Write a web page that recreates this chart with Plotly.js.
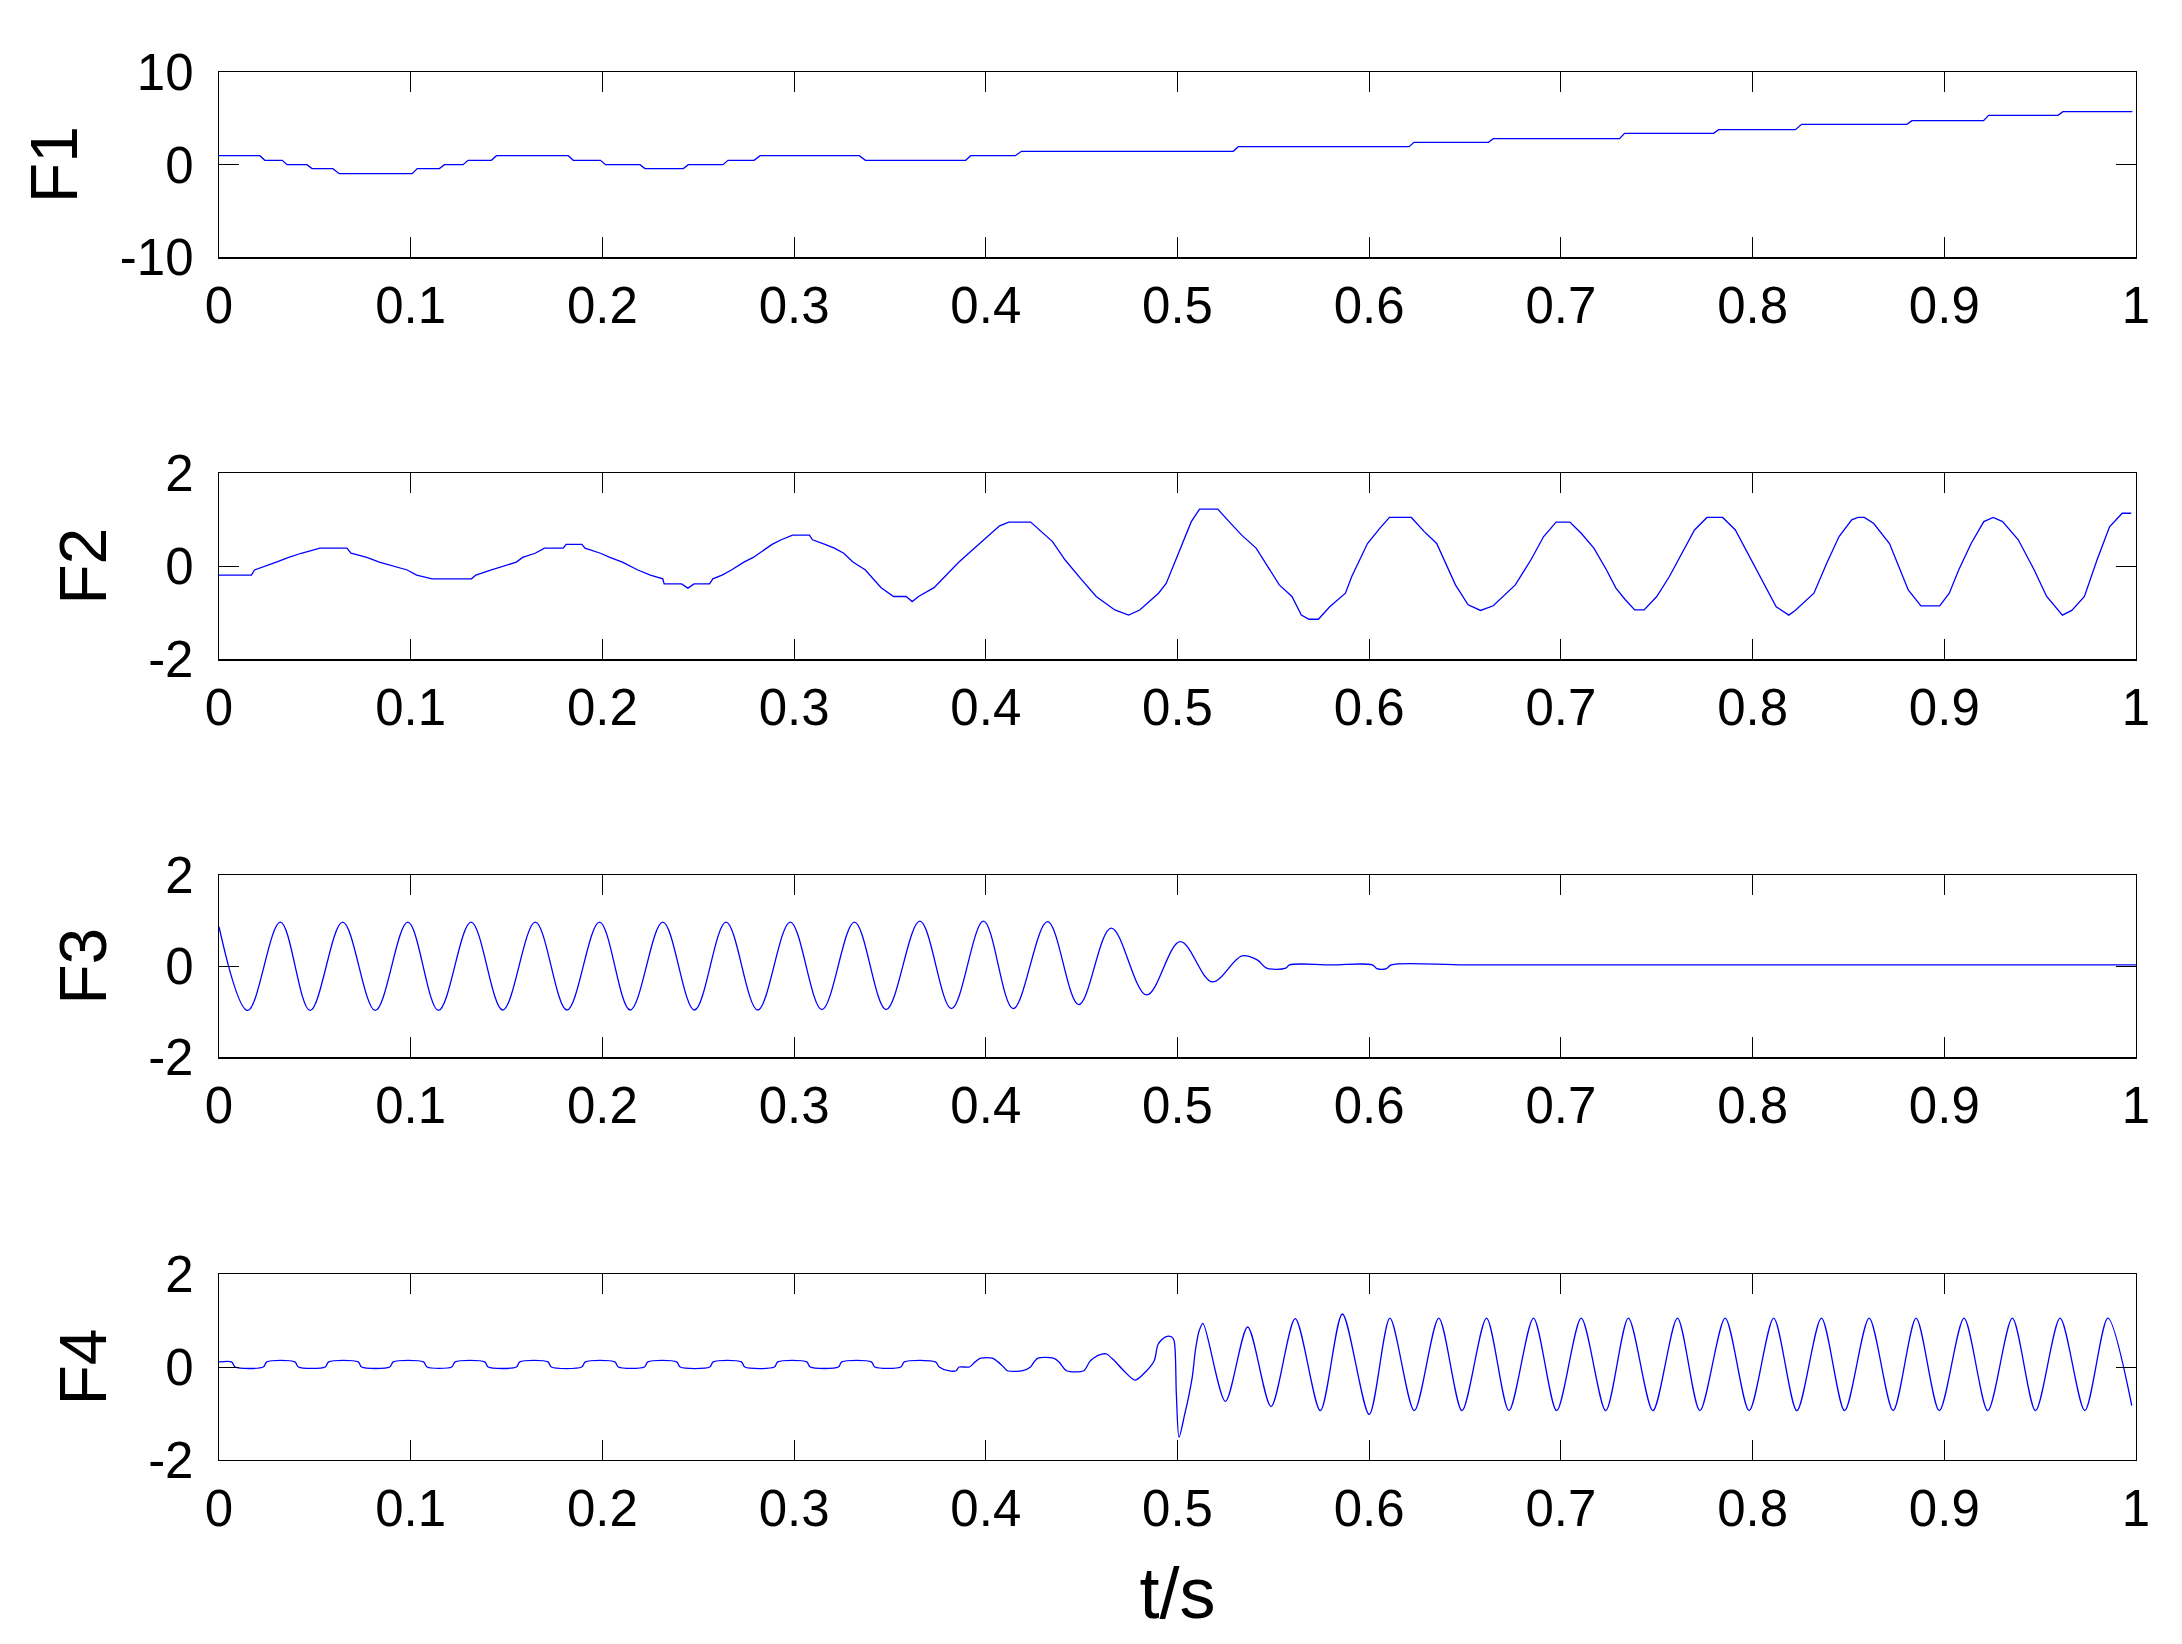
<!DOCTYPE html>
<html>
<head>
<meta charset="utf-8">
<script src="https://cdn.plot.ly/plotly-3.0.1.min.js"></script>
<style>html,body{margin:0;padding:0;background:#fff;}#chart{width:2182px;height:1644px;}</style>
</head>
<body>
<div id="chart"></div>
<script>
// ---- data ----
const xTickVals = [0, 0.1, 0.2, 0.3, 0.4, 0.5, 0.6, 0.7, 0.8, 0.9, 1];
const xTickText = ['0', '0.1', '0.2', '0.3', '0.4', '0.5', '0.6', '0.7', '0.8', '0.9', '1'];
const yLabels = ['F1', 'F2', 'F3', 'F4'];
const xLabel = 't/s';
const f1TickVals = [-10, 0, 10];
const fTickVals = [-2, 0, 2];

const f1_t = [0, 0.0213, 0.0239, 0.0330, 0.0355, 0.0459, 0.0485, 0.0594, 0.0627, 0.1008,
  0.1034, 0.1150, 0.1176, 0.1273, 0.1299, 0.1421, 0.1447, 0.1822, 0.1848, 0.1990,
  0.2016, 0.2196, 0.2222, 0.2422, 0.2448, 0.2629, 0.2655, 0.2791, 0.2823, 0.3340,
  0.3372, 0.3895, 0.3921, 0.4154, 0.4186, 0.5291, 0.5317, 0.6208, 0.6234, 0.6622,
  0.6647, 0.7306, 0.7332, 0.7797, 0.7823, 0.8223, 0.8256, 0.8805, 0.8831, 0.9205,
  0.9231, 0.9593, 0.9619, 0.9981];
const f1_v = [0.97, 0.97, 0.47, 0.47, 0, 0, -0.43, -0.43, -0.97, -0.97,
  -0.43, -0.43, 0, 0, 0.47, 0.47, 0.97, 0.97, 0.47, 0.47,
  0, 0, -0.43, -0.43, 0, 0, 0.47, 0.47, 0.97, 0.97,
  0.47, 0.47, 0.97, 0.97, 1.44, 1.44, 1.94, 1.94, 2.41, 2.41,
  2.8, 2.8, 3.38, 3.38, 3.78, 3.78, 4.35, 4.35, 4.75, 4.75,
  5.32, 5.32, 5.72, 5.72];

const f2_t = [0, 0.0169, 0.0185, 0.025, 0.0299, 0.0364, 0.0429, 0.0527, 0.0667, 0.0689,
  0.0771, 0.0836, 0.0901, 0.0982, 0.1031, 0.1112, 0.1317, 0.134, 0.1421, 0.1486,
  0.1551, 0.1584, 0.1649, 0.1698, 0.1795, 0.1811, 0.1893, 0.1909, 0.199, 0.2039,
  0.2104, 0.2185, 0.225, 0.2315, 0.2322, 0.2413, 0.2446, 0.2478, 0.2559, 0.2576,
  0.2624, 0.2673, 0.2738, 0.2787, 0.282, 0.2885, 0.2933, 0.2992, 0.308, 0.3096,
  0.3161, 0.321, 0.3259, 0.3307, 0.3372, 0.3454, 0.3519, 0.3584, 0.3616, 0.3649,
  0.373, 0.386, 0.399, 0.4072, 0.412, 0.4234, 0.4348, 0.4413, 0.4494, 0.4576,
  0.4673, 0.4745, 0.4803, 0.4901, 0.4941, 0.499, 0.5039, 0.5072, 0.5115, 0.521,
  0.5269, 0.5335, 0.541, 0.5482, 0.5531, 0.5597, 0.5646, 0.5686, 0.5735, 0.5794,
  0.5876, 0.5909, 0.5991, 0.6056, 0.6106, 0.622, 0.6286, 0.6352, 0.6401, 0.645,
  0.6516, 0.6581, 0.6647, 0.6762, 0.6844, 0.691, 0.6975, 0.7047, 0.7106, 0.7172,
  0.7238, 0.7287, 0.7336, 0.7385, 0.7434, 0.75, 0.7566, 0.7631, 0.7697, 0.7762,
  0.7844, 0.791, 0.7992, 0.8058, 0.8123, 0.8189, 0.8222, 0.832, 0.8386, 0.8451,
  0.8517, 0.855, 0.8583, 0.8632, 0.8714, 0.8763, 0.8812, 0.8878, 0.8976, 0.9026,
  0.9075, 0.914, 0.9206, 0.9255, 0.9304, 0.9386, 0.9469, 0.9534, 0.9616, 0.9665,
  0.9731, 0.9797, 0.9862, 0.9928, 0.9975];
const f2_v = [-0.19, -0.19, -0.08, 0.01, 0.09, 0.19, 0.28, 0.39, 0.39, 0.28,
  0.19, 0.09, 0.01, -0.08, -0.19, -0.27, -0.27, -0.19, -0.08, 0.01,
  0.09, 0.19, 0.28, 0.39, 0.39, 0.47, 0.47, 0.39, 0.28, 0.19,
  0.09, -0.08, -0.19, -0.27, -0.38, -0.38, -0.47, -0.38, -0.38, -0.27,
  -0.19, -0.08, 0.09, 0.19, 0.28, 0.47, 0.57, 0.67, 0.67, 0.57,
  0.47, 0.39, 0.28, 0.09, -0.08, -0.46, -0.65, -0.65, -0.76, -0.65,
  -0.46, 0.09, 0.57, 0.87, 0.95, 0.95, 0.53, 0.14, -0.26, -0.65,
  -0.94, -1.05, -0.94, -0.58, -0.37, 0.14, 0.64, 0.96, 1.23, 1.23,
  0.96, 0.67, 0.39, -0.08, -0.40, -0.65, -1.05, -1.14, -1.14, -0.87,
  -0.58, -0.22, 0.49, 0.82, 1.05, 1.05, 0.75, 0.49, 0.06, -0.40,
  -0.83, -0.95, -0.85, -0.40, 0.14, 0.64, 0.95, 0.95, 0.71, 0.39,
  -0.08, -0.47, -0.72, -0.94, -0.94, -0.65, -0.22, 0.28, 0.78, 1.05,
  1.05, 0.78, 0.14, -0.37, -0.87, -1.05, -0.95, -0.58, 0.06, 0.64,
  1.0, 1.05, 1.05, 0.92, 0.49, -0.01, -0.51, -0.85, -0.85, -0.58,
  -0.08, 0.49, 0.96, 1.05, 0.96, 0.57, -0.08, -0.65, -1.05, -0.95,
  -0.65, 0.14, 0.85, 1.14, 1.14];

const f3_t = [0, 0.015, 0.032, 0.0475, 0.0645, 0.0815, 0.0985, 0.1145, 0.1315, 0.148,
  0.165, 0.1815, 0.1985, 0.2145, 0.2315, 0.248, 0.2645, 0.281, 0.298, 0.3145,
  0.3315, 0.348, 0.3656, 0.3821, 0.3988, 0.4143, 0.4322, 0.4485, 0.4654, 0.4839,
  0.5014, 0.5181, 0.5336, 0.5416, 0.5465, 0.5565, 0.5584, 0.5800, 0.6016, 0.604,
  0.609, 0.6115, 0.65, 0.70, 0.75, 0.80, 0.85, 0.90, 0.95, 1.0];
const f3_v = [0.87, -0.97, 0.97, -0.97, 0.97, -0.97, 0.97, -0.97, 0.97, -0.96,
  0.97, -0.96, 0.97, -0.96, 0.97, -0.96, 0.97, -0.96, 0.97, -0.95,
  0.97, -0.95, 0.99, -0.93, 0.99, -0.93, 0.98, -0.84, 0.84, -0.63,
  0.54, -0.34, 0.23, 0.14, -0.04, -0.04, 0.03, 0.03, 0.03, -0.05,
  -0.05, 0.03, 0.03, 0.03, 0.03, 0.03, 0.03, 0.03, 0.03, 0.03];

const f4_t = [0, 0.0066, 0.0084, 0.0231, 0.0249, 0.0396, 0.0414, 0.0554, 0.0572, 0.0726,
  0.0744, 0.0891, 0.0909, 0.1067, 0.1085, 0.1214, 0.1232, 0.1386, 0.1404, 0.1551,
  0.1569, 0.1716, 0.1734, 0.1892, 0.1911, 0.2065, 0.2083, 0.2219, 0.2237, 0.2387,
  0.2406, 0.256, 0.2578, 0.2725, 0.2743, 0.2897, 0.2915, 0.3066, 0.3084, 0.3231,
  0.3249, 0.3403, 0.3421, 0.3557, 0.3575, 0.3737, 0.3757, 0.3805, 0.3845, 0.3861,
  0.3915, 0.3944, 0.3974, 0.4034, 0.4064, 0.4093, 0.4113, 0.4193, 0.4233, 0.4252,
  0.4272, 0.4352, 0.4382, 0.4421, 0.4511, 0.4541, 0.4561, 0.461, 0.463, 0.467,
  0.472, 0.4779, 0.4839, 0.4879, 0.4899, 0.4938, 0.4968, 0.4982, 0.4994, 0.5008,
  0.5038, 0.5054, 0.5078, 0.5093, 0.5113, 0.5133, 0.525, 0.5366, 0.5488, 0.5614,
  0.5745, 0.586, 0.6, 0.6108, 0.6235, 0.6363, 0.6484, 0.6612, 0.6729, 0.6857,
  0.6978, 0.7106, 0.7234, 0.7352, 0.748, 0.7608, 0.7725, 0.7857, 0.7982, 0.811,
  0.8231, 0.8359, 0.848, 0.8608, 0.8733, 0.8853, 0.8974, 0.9103, 0.9227, 0.9355,
  0.9476, 0.9604, 0.9733, 0.9853, 0.9978];
const f4_v = [0.11, 0.11, 0, 0, 0.11, 0.11, 0, 0, 0.11, 0.11,
  0, 0, 0.11, 0.11, 0, 0, 0.11, 0.11, 0, 0,
  0.11, 0.11, 0, 0, 0.11, 0.11, 0, 0, 0.11, 0.11,
  0, 0, 0.11, 0.11, 0, 0, 0.11, 0.11, 0, 0,
  0.11, 0.11, 0, 0, 0.11, 0.11, 0, -0.08, -0.08, 0,
  0, 0.11, 0.19, 0.19, 0.11, 0, -0.08, -0.08, 0, 0.11,
  0.19, 0.19, 0.11, -0.08, -0.08, 0.11, 0.19, 0.28, 0.28, 0.14,
  -0.08, -0.28, -0.08, 0.14, 0.49, 0.65, 0.65, 0.57, -0.58, -1.51,
  -1.01, -0.72, -0.19, 0.35, 0.78, 0.94, -0.74, 0.86, -0.85, 1.04,
  -0.94, 1.14, -1.02, 1.05, -0.94, 1.05, -0.94, 1.05, -0.94, 1.05,
  -0.94, 1.05, -0.94, 1.05, -0.94, 1.05, -0.94, 1.05, -0.94, 1.05,
  -0.94, 1.05, -0.94, 1.05, -0.94, 1.05, -0.94, 1.05, -0.94, 1.05,
  -0.94, 1.05, -0.94, 1.05, -0.83];

// ---- drawing ----
const FONT = 'Liberation Sans, Arial, Helvetica, sans-serif';
const lineStyle = {color: '#0000ff', width: 1.3};
const traces = [
  {x: f1_t, y: f1_v, xaxis: 'x', yaxis: 'y', mode: 'lines', line: Object.assign({shape: 'linear'}, lineStyle)},
  {x: f2_t, y: f2_v, xaxis: 'x2', yaxis: 'y2', mode: 'lines', line: Object.assign({shape: 'linear'}, lineStyle)},
  {x: f3_t, y: f3_v, xaxis: 'x3', yaxis: 'y3', mode: 'lines', line: Object.assign({shape: 'spline', smoothing: 1}, lineStyle)},
  {x: f4_t, y: f4_v, xaxis: 'x4', yaxis: 'y4', mode: 'lines', line: Object.assign({shape: 'spline', smoothing: 0.8}, lineStyle)}
];

const domains = [[0.8665, 1], [0.5769, 0.7109], [0.2901, 0.4213], [0, 0.1340]];
const layout = {
  width: 2182, height: 1644,
  margin: {l: 219, r: 46, t: 72, b: 184},
  paper_bgcolor: '#ffffff', plot_bgcolor: '#ffffff',
  showlegend: false,
  font: {family: FONT, color: '#000'}
};

function xAxis(i, withTitle) {
  const a = {
    domain: [0, 1], range: [0, 1], anchor: 'y' + (i === 1 ? '' : i),
    tickvals: xTickVals, ticktext: xTickText,
    ticks: 'inside', ticklen: 20, tickwidth: 1, tickcolor: '#000',
    showline: true, linecolor: '#000', linewidth: 1.3, mirror: 'ticks',
    showgrid: false, zeroline: false,
    tickfont: {family: FONT, size: 51, color: '#000'},
    ticklabelstandoff: 3
  };
  if (withTitle) a.title = {text: xLabel, font: {family: FONT, size: 72, color: '#000'}, standoff: 32};
  return a;
}
function yAxis(i, vals, range) {
  return {
    domain: domains[i - 1], range: range, anchor: 'x' + (i === 1 ? '' : i),
    tickvals: vals, ticktext: vals.map(String),
    ticks: 'inside', ticklen: 20, tickwidth: 1, tickcolor: '#000',
    showline: true, linecolor: '#000', linewidth: 1.3, mirror: 'ticks',
    showgrid: false, zeroline: false,
    tickfont: {family: FONT, size: 51, color: '#000'},
    ticklabelstandoff: 14,
    title: {text: yLabels[i - 1], font: {family: FONT, size: 66, color: '#000'}, standoff: 20}
  };
}
layout.xaxis = xAxis(1, false);
layout.xaxis2 = xAxis(2, false);
layout.xaxis3 = xAxis(3, false);
layout.xaxis4 = xAxis(4, true);
layout.yaxis = yAxis(1, f1TickVals, [-10, 10]);
layout.yaxis2 = yAxis(2, fTickVals, [-2, 2]);
layout.yaxis3 = yAxis(3, fTickVals, [-2, 2]);
layout.yaxis4 = yAxis(4, fTickVals, [-2, 2]);

Plotly.newPlot('chart', traces, layout, {displayModeBar: false, staticPlot: true});
</script>
</body>
</html>
